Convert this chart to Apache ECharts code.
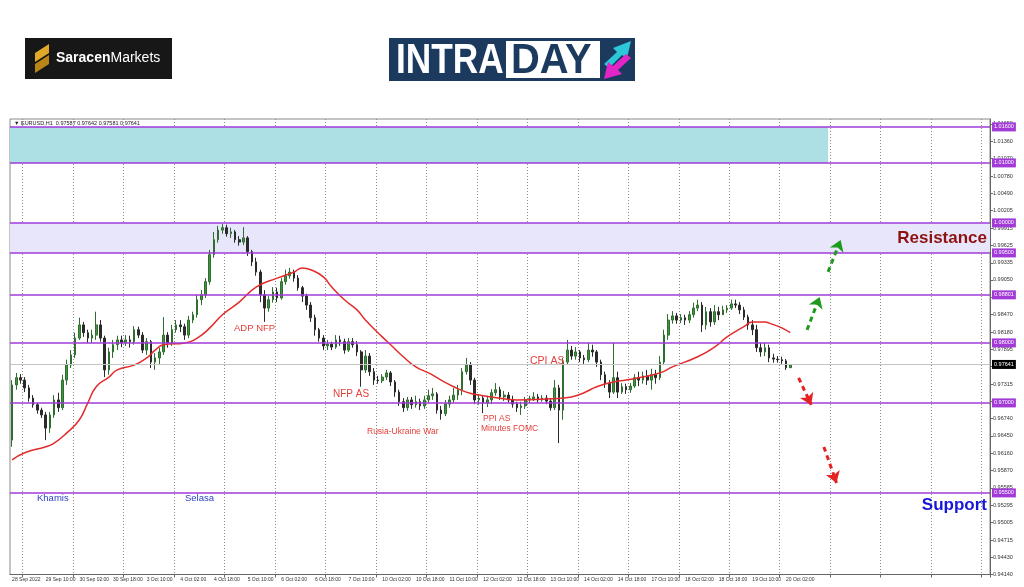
<!DOCTYPE html>
<html><head><meta charset="utf-8">
<script src="https://cdn.jsdelivr.net/npm/echarts@6/dist/echarts.min.js"></script>
<style>html,body{margin:0;padding:0;background:#fff;}#c{width:1024px;height:587px;}</style>
</head><body><div id="c"></div>
<script>
// ---- data (2-hour candles, EURUSD) ----
const timeLabels = ["28 Sep 2022","29 Sep 10:00","30 Sep 02:00","30 Sep 18:00","3 Oct 10:00","4 Oct 02:00","4 Oct 18:00","5 Oct 10:00","6 Oct 02:00","6 Oct 18:00","7 Oct 10:00","10 Oct 02:00","10 Oct 18:00","11 Oct 10:00","12 Oct 02:00","12 Oct 18:00","13 Oct 10:00","14 Oct 02:00","14 Oct 18:00","17 Oct 10:00","18 Oct 02:00","18 Oct 18:00","19 Oct 10:00","20 Oct 02:00"];
const opens = [0.9638,0.9730,0.9742,0.9738,0.9725,0.9708,0.9697,0.9688,0.9680,0.9658,
0.9680,0.9705,0.9692,0.9738,0.9763,0.9780,0.9808,0.9830,0.9817,0.9808,
0.9813,0.9830,0.9808,0.9755,0.9785,0.9797,0.9805,0.9800,0.9805,0.9802,
0.9822,0.9813,0.9788,0.9802,0.9768,0.9775,0.9785,0.9813,0.9800,0.9822,
0.9830,0.9827,0.9813,0.9838,0.9847,0.9872,0.9880,0.9902,0.9947,0.9972,
0.9988,0.9992,0.9982,0.9985,0.9972,0.9968,0.9975,0.9952,0.9935,0.9918,
0.9880,0.9858,0.9872,0.9885,0.9875,0.9902,0.9912,0.9918,0.9908,0.9892,
0.9878,0.9863,0.9842,0.9822,0.9808,0.9795,0.9798,0.9793,0.9805,0.9802,
0.9788,0.9802,0.9797,0.9785,0.9755,0.9778,0.9752,0.9738,0.9737,0.9743,
0.9750,0.9735,0.9718,0.9702,0.9692,0.9705,0.9697,0.9702,0.9695,0.9705,
0.9712,0.9715,0.9688,0.9682,0.9698,0.9705,0.9713,0.9722,0.9752,0.9763,
0.9738,0.9705,0.9708,0.9700,0.9705,0.9717,0.9722,0.9710,0.9713,0.9705,
0.9698,0.9692,0.9695,0.9705,0.9707,0.9710,0.9705,0.9708,0.9703,0.9692,
0.9725,0.9688,0.9768,0.9788,0.9778,0.9785,0.9775,0.9772,0.9788,0.9785,
0.9768,0.9747,0.9733,0.9718,0.9742,0.9718,0.9727,0.9722,0.9728,0.9742,
0.9738,0.9745,0.9738,0.9747,0.9742,0.9768,0.9813,0.9838,0.9845,0.9838,
0.9842,0.9838,0.9847,0.9858,0.9863,0.9830,0.9852,0.9835,0.9852,0.9847,
0.9855,0.9858,0.9865,0.9863,0.9855,0.9843,0.9830,0.9822,0.9792,0.9785,
0.9792,0.9775,0.9773,0.9772,0.9770,0.97587];
const closes = [0.9730,0.9742,0.9738,0.9725,0.9708,0.9697,0.9688,0.9680,0.9658,0.9680,
0.9705,0.9692,0.9738,0.9763,0.9780,0.9808,0.9830,0.9817,0.9808,0.9813,
0.9830,0.9808,0.9755,0.9785,0.9797,0.9805,0.9800,0.9805,0.9802,0.9822,
0.9813,0.9788,0.9802,0.9768,0.9775,0.9785,0.9813,0.9800,0.9822,0.9830,
0.9827,0.9813,0.9838,0.9847,0.9872,0.9880,0.9902,0.9947,0.9972,0.9988,
0.9992,0.9982,0.9985,0.9972,0.9968,0.9975,0.9952,0.9935,0.9918,0.9880,
0.9858,0.9872,0.9885,0.9875,0.9902,0.9912,0.9918,0.9908,0.9892,0.9878,
0.9863,0.9842,0.9822,0.9808,0.9795,0.9798,0.9793,0.9805,0.9802,0.9788,
0.9802,0.9797,0.9785,0.9755,0.9778,0.9752,0.9738,0.9737,0.9743,0.9750,
0.9735,0.9718,0.9702,0.9692,0.9705,0.9697,0.9702,0.9695,0.9705,0.9712,
0.9715,0.9688,0.9682,0.9698,0.9705,0.9713,0.9722,0.9752,0.9763,0.9738,
0.9705,0.9708,0.9700,0.9705,0.9717,0.9722,0.9710,0.9713,0.9705,0.9698,
0.9692,0.9695,0.9705,0.9707,0.9710,0.9705,0.9708,0.9703,0.9692,0.9725,
0.9688,0.9768,0.9788,0.9778,0.9785,0.9775,0.9772,0.9788,0.9785,0.9768,
0.9747,0.9733,0.9718,0.9742,0.9718,0.9727,0.9722,0.9728,0.9742,0.9738,
0.9745,0.9738,0.9747,0.9742,0.9768,0.9813,0.9838,0.9845,0.9838,0.9842,
0.9838,0.9847,0.9858,0.9863,0.9830,0.9852,0.9835,0.9852,0.9847,0.9855,
0.9858,0.9865,0.9863,0.9855,0.9843,0.9830,0.9822,0.9792,0.9785,0.9792,
0.9775,0.9773,0.9772,0.9770,0.97587,0.97641];
const lows = [0.9627,0.9722,0.9732,0.9718,0.9702,0.9692,0.9682,0.9675,0.9638,0.9650,
0.9675,0.9685,0.9688,0.9730,0.9758,0.9775,0.9805,0.9810,0.9800,0.9800,
0.9805,0.9802,0.9743,0.9747,0.9775,0.9788,0.9793,0.9795,0.9792,0.9797,
0.9808,0.9783,0.9780,0.9758,0.9755,0.9763,0.9780,0.9792,0.9795,0.9817,
0.9818,0.9805,0.9808,0.9833,0.9842,0.9863,0.9875,0.9897,0.9942,0.9967,
0.9982,0.9977,0.9975,0.9967,0.9962,0.9963,0.9945,0.9928,0.9912,0.9868,
0.9835,0.9852,0.9867,0.9868,0.9872,0.9897,0.9907,0.9902,0.9887,0.9868,
0.9855,0.9835,0.9812,0.9802,0.9788,0.9788,0.9788,0.9790,0.9795,0.9782,
0.9785,0.9792,0.9778,0.9727,0.9750,0.9745,0.9730,0.9732,0.9733,0.9738,
0.9728,0.9710,0.9695,0.9685,0.9687,0.9690,0.9692,0.9688,0.9690,0.9700,
0.9705,0.9682,0.9672,0.9678,0.9692,0.9700,0.9705,0.9713,0.9747,0.9730,
0.9698,0.9697,0.9683,0.9693,0.9698,0.9712,0.9705,0.9703,0.9700,0.9692,
0.9685,0.9680,0.9690,0.9700,0.9703,0.9700,0.9702,0.9698,0.9687,0.9688,
0.9633,0.9672,0.9763,0.9772,0.9772,0.9768,0.9765,0.9768,0.9777,0.9760,
0.9738,0.9725,0.9708,0.9715,0.9708,0.9715,0.9715,0.9717,0.9725,0.9728,
0.9732,0.9730,0.9722,0.9732,0.9738,0.9763,0.9805,0.9832,0.9832,0.9833,
0.9830,0.9833,0.9842,0.9853,0.9818,0.9822,0.9827,0.9830,0.9838,0.9848,
0.9850,0.9855,0.9858,0.9848,0.9838,0.9822,0.9813,0.9785,0.9777,0.9778,
0.9768,0.9767,0.9767,0.9765,0.9755,0.97581];
const highs = [0.9738,0.9750,0.9748,0.9743,0.9730,0.9713,0.9700,0.9692,0.9685,0.9685,
0.9713,0.9717,0.9747,0.9772,0.9788,0.9817,0.9842,0.9835,0.9822,0.9822,
0.9852,0.9838,0.9812,0.9792,0.9805,0.9812,0.9812,0.9813,0.9812,0.9828,
0.9827,0.9818,0.9808,0.9805,0.9783,0.9792,0.9843,0.9818,0.9830,0.9838,
0.9838,0.9832,0.9845,0.9852,0.9880,0.9888,0.9908,0.9955,0.9985,0.9995,
0.9998,0.9997,0.9992,0.9988,0.9978,0.9993,0.9978,0.9955,0.9942,0.9922,
0.9888,0.9878,0.9893,0.9892,0.9908,0.9922,0.9925,0.9922,0.9913,0.9895,
0.9882,0.9868,0.9847,0.9825,0.9813,0.9805,0.9802,0.9813,0.9812,0.9807,
0.9808,0.9808,0.9803,0.9788,0.9788,0.9783,0.9758,0.9745,0.9748,0.9755,
0.9753,0.9738,0.9722,0.9708,0.9710,0.9710,0.9712,0.9707,0.9712,0.9722,
0.9725,0.9718,0.9695,0.9705,0.9712,0.9725,0.9730,0.9758,0.9775,0.9768,
0.9742,0.9715,0.9713,0.9712,0.9723,0.9733,0.9727,0.9720,0.9718,0.9712,
0.9702,0.9702,0.9710,0.9712,0.9718,0.9715,0.9713,0.9713,0.9707,0.9738,
0.9730,0.9775,0.9805,0.9795,0.9793,0.9788,0.9780,0.9800,0.9797,0.9788,
0.9772,0.9752,0.9738,0.9800,0.9752,0.9733,0.9732,0.9733,0.9748,0.9752,
0.9752,0.9755,0.9757,0.9755,0.9778,0.9822,0.9848,0.9853,0.9850,0.9848,
0.9847,0.9853,0.9867,0.9872,0.9868,0.9860,0.9858,0.9863,0.9860,0.9862,
0.9863,0.9872,0.9872,0.9868,0.9860,0.9847,0.9838,0.9830,0.9800,0.9800,
0.9797,0.9782,0.9778,0.9777,0.9773,0.97642];
// moving average: bar index / value
const maIndex = [0,3,8,10,13,16,18,20,23,25,29,32,34,36,41,44,47,50,54,58,63,67,69,71,74,76,79,82,84,88,90,93,96,99,102,105,108,111,114,120,128,133,136,139,143,146,149,154,157,163,167,170,174,176,179,180,183,185];
const maValue = [0.9605,0.9617,0.9627,0.9633,0.9650,0.9672,0.9700,0.9727,0.9743,0.9755,0.9763,0.9775,0.9788,0.9797,0.9800,0.9808,0.9825,0.9847,0.9868,0.9893,0.9908,0.9918,0.9925,0.9922,0.9910,0.9893,0.9872,0.9855,0.9838,0.9810,0.9797,0.9777,0.9760,0.9750,0.9738,0.9727,0.9718,0.9713,0.9710,0.9705,0.9707,0.9710,0.9717,0.9727,0.9735,0.9738,0.9742,0.9750,0.9760,0.9777,0.9793,0.9810,0.9827,0.9835,0.9835,0.9833,0.9825,0.9817];
const levels = [1.016, 1.01, 1.0, 0.995, 0.98801, 0.98, 0.97, 0.955];
const priceTicks = [1.0165,1.0136,1.0107,1.0078,1.0049,1.00205,0.99915,0.99625,0.99335,0.9905,0.9876,0.9847,0.9818,0.97895,0.97605,0.97315,0.97025,0.9674,0.9645,0.9616,0.9587,0.95585,0.95295,0.95005,0.94715,0.9443,0.9414];
const lastPrice = 0.97641;
const upperZone = [1.01, 1.016];
const resistanceZone = [0.995, 1.0];
const upperZoneEndBar = 194;
const arrowsUp = [[189,0.98217,192,0.98767],[194,0.99183,197,0.99717]];
const arrowsDown = [[187,0.97417,190,0.96967],[193,0.96267,196,0.95667]];
const slotCount = 233;

// ---- build ----
const categories = Array.from({length: slotCount}, (_, i) => String(i));
const candleData = opens.map((o, i) => [o, closes[i], lows[i], highs[i]]);
const maData = maIndex.map((i, k) => [i, maValue[k]]);
const purple = '#a23ad8';
const FF = 'Liberation Sans, Arial, sans-serif';
const n = opens.length - 1;
const header = '\u25BC EURUSD,H1  ' + opens[n].toFixed(5) + ' ' + highs[n].toFixed(5) + ' ' + lows[n].toFixed(5) + ' ' + closes[n].toFixed(5);

const levelLines = levels.map(v => ({
  yAxis: v,
  lineStyle: {color: purple, width: 1.5, type: 'solid'},
  label: {show: true, position: 'end', distance: 2, formatter: v.toFixed(5), backgroundColor: purple,
          color: '#fff', fontSize: 5.5, fontFamily: FF, padding: [1.5, 2]}
}));
levelLines.push({
  yAxis: lastPrice,
  lineStyle: {color: '#c4c4c4', width: 1, type: 'solid'},
  label: {show: true, position: 'end', distance: 2, formatter: lastPrice.toFixed(5), backgroundColor: '#000',
          color: '#fff', fontSize: 5.5, fontFamily: FF, padding: [1.5, 2]}
});
const arrowLines = arrowsUp.map(a => [{coord: [a[0], a[1]], lineStyle: {color: '#1f9a1f', width: 3, type: [5, 4]}}, {coord: [a[2], a[3]]}])
  .concat(arrowsDown.map(a => [{coord: [a[0], a[1]], lineStyle: {color: '#e42222', width: 3, type: [5, 4]}}, {coord: [a[2], a[3]]}]));

function txt(t, x, y, size, fill, extra) {
  extra = extra || {};
  return {type: 'text', z: 100, style: {text: t, x: x, y: y, fill: fill,
    font: (extra.weight ? extra.weight + ' ' : '') + size + 'px ' + (extra.family || FF),
    textVerticalAlign: 'middle', textAlign: extra.align || 'left'}};
}

const chart = echarts.init(document.getElementById('c'), null, {renderer: 'canvas'});
chart.setOption({
  animation: false,
  backgroundColor: '#fff',
  grid: {left: 10, right: 34, top: 119, bottom: 12.5, show: true, borderColor: '#8a8a8a', borderWidth: 1},
  xAxis: {
    type: 'category', data: categories, boundaryGap: true,
    axisLine: {show: true, lineStyle: {color: '#666'}},
    axisTick: {show: true, interval: (i) => i % 12 === 3, length: 3, lineStyle: {color: '#666'}},
    axisLabel: {interval: (i) => i % 8 === 0 && i / 8 < timeLabels.length, showMinLabel: true, hideOverlap: false,
      formatter: (v) => timeLabels[parseInt(v, 10) / 8] || '', fontSize: 5, color: '#333', fontFamily: FF, align: 'left', margin: 3},
    splitLine: {show: true, interval: (i) => i % 12 === 3, lineStyle: {color: '#8c8c8c', type: [1, 2], width: 1}}
  },
  yAxis: {
    type: 'value', position: 'right', min: 0.9414, max: 1.017317, scale: true,
    axisLine: {show: true, lineStyle: {color: '#666'}},
    axisTick: {show: true, length: 3, customValues: priceTicks, lineStyle: {color: '#666'}},
    axisLabel: {customValues: priceTicks, formatter: (v) => v.toFixed(5), fontSize: 5.5, color: '#333', fontFamily: FF, margin: 3},
    splitLine: {show: false}
  },
  series: [
    {
      type: 'candlestick', data: candleData, barMaxWidth: 3,
      itemStyle: {color: '#3d973d', color0: '#2a2a2a', borderColor: '#2f6e2f', borderColor0: '#2a2a2a', borderWidth: 1},
      markArea: {silent: true, data: [
        [{yAxis: upperZone[1], itemStyle: {color: '#ade0e4'}}, {yAxis: upperZone[0], xAxis: upperZoneEndBar}],
        [{yAxis: resistanceZone[1], itemStyle: {color: '#e7e6fa'}}, {yAxis: resistanceZone[0]}]
      ]},
      markLine: {silent: true, symbol: 'none', precision: 5, animation: false, data: levelLines}
    },
    {
      type: 'line', data: maData, smooth: true, symbol: 'none', z: 3,
      lineStyle: {color: '#e32b2b', width: 1.5},
      markLine: {silent: true, symbol: ['none', 'arrow'], symbolSize: 11, precision: 5, label: {show: false}, animation: false, data: arrowLines}
    }
  ],
  graphic: [
    txt(header, 14, 123, 5.5, '#222'),
    txt('ADP NFP', 234, 328, 9.5, '#e5403b'),
    txt('NFP AS', 333, 394, 10, '#e5403b'),
    txt('Rusia-Ukraine War', 367, 432, 8.5, '#e5403b'),
    txt('PPI AS', 483, 419, 8.5, '#e5403b'),
    txt('Minutes FOMC', 481, 429, 8.5, '#e5403b'),
    txt('CPI AS', 530, 361, 10.5, '#e5403b'),
    txt('Khamis', 37, 498, 9.5, '#2b3fc6'),
    txt('Selasa', 185, 498, 9.5, '#2b3fc6'),
    txt('Resistance', 987, 238, 17, '#8e1212', {weight: 'bold', align: 'right'}),
    txt('Support', 987, 505, 17, '#1717d8', {weight: 'bold', align: 'right'}),
    // Saracen Markets logo
    {type: 'rect', z: 100, shape: {x: 25, y: 38, width: 147, height: 41}, style: {fill: '#171717'}},
    {type: 'polygon', z: 101, shape: {points: [[35, 53], [49, 44], [49, 53], [35, 62]]}, style: {fill: '#e0a92a'}},
    {type: 'polygon', z: 101, shape: {points: [[35, 64], [49, 55], [49, 64], [35, 73]]}, style: {fill: '#b98418'}},
    {type: 'text', z: 101, style: {text: '{a|Saracen}{b|Markets}', x: 56, y: 58, textVerticalAlign: 'middle',
      rich: {a: {fill: '#fff', font: 'bold 14px ' + FF}, b: {fill: '#fff', font: '14px ' + FF}}}},
    // INTRADAY logo
    {type: 'rect', z: 100, shape: {x: 389, y: 38, width: 246, height: 43}, style: {fill: '#1c3a5e'}},
    {type: 'rect', z: 101, shape: {x: 506, y: 41, width: 94, height: 37}, style: {fill: '#fff'}},
    {type: 'text', z: 102, x: 396, y: 61, scaleX: 0.84, style: {text: 'INTRA', x: 0, y: 0, textVerticalAlign: 'middle', fill: '#fff', font: 'bold 42px ' + FF}},
    {type: 'text', z: 102, x: 511, y: 61, scaleX: 0.95, style: {text: 'DAY', x: 0, y: 0, textVerticalAlign: 'middle', fill: '#1c3a5e', font: 'bold 42px ' + FF}},
    {type: 'polygon', z: 102, shape: {points: [[604, 64], [617, 52], [613, 48], [631, 41], [627, 58], [622, 55], [609, 68]]}, style: {fill: '#2cc7d9'}},
    {type: 'polygon', z: 102, shape: {points: [[631, 58], [618, 70], [622, 74], [604, 79], [608, 62], [613, 66], [626, 54]]}, style: {fill: '#e225c6'}}
  ]
});
</script></body></html>
